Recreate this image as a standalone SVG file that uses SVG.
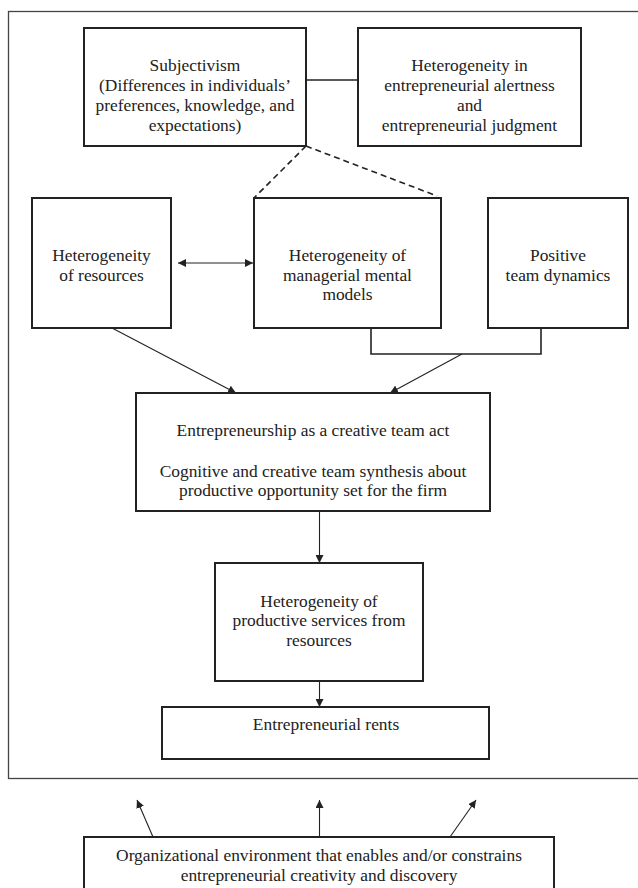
<svg xmlns="http://www.w3.org/2000/svg" width="638" height="888" viewBox="0 0 638 888">
<style>
.box{fill:none;stroke:#222;stroke-width:2}
.frame{fill:none;stroke:#444;stroke-width:1.3}
.t{font-family:"Liberation Serif","Times New Roman",serif;font-size:17.4px;fill:#222;text-anchor:middle}
.c{fill:none;stroke:#222;stroke-width:1.1}
.d{fill:none;stroke:#222;stroke-width:1.6;stroke-dasharray:6,4}
</style>
<defs>
<marker id="ah" viewBox="0 0 10 10" refX="10" refY="5" markerWidth="8" markerHeight="8" markerUnits="userSpaceOnUse" orient="auto-start-reverse">
<path d="M0,0 L10,5 L0,10 Z" fill="#222"/>
</marker>
</defs>
<rect class="frame" x="8.5" y="11.5" width="640" height="767"/>
<g id="subjectivism">
<rect class="box" x="84" y="28" width="222" height="118"/>
<text class="t" x="195" y="71">Subjectivism</text>
<text class="t" x="195" y="91">(Differences in individuals’</text>
<text class="t" x="195" y="111">preferences, knowledge, and</text>
<text class="t" x="195" y="131">expectations)</text>
</g>
<g id="alertness">
<rect class="box" x="358" y="28" width="223" height="118"/>
<text class="t" x="469.5" y="71">Heterogeneity in</text>
<text class="t" x="469.5" y="91">entrepreneurial alertness</text>
<text class="t" x="469.5" y="111">and</text>
<text class="t" x="469.5" y="131">entrepreneurial judgment</text>
</g>
<g id="resources">
<rect class="box" x="32" y="198" width="139" height="130"/>
<text class="t" x="101.5" y="261">Heterogeneity</text>
<text class="t" x="101.5" y="281">of resources</text>
</g>
<g id="mental-models">
<rect class="box" x="254" y="198" width="187" height="130"/>
<text class="t" x="347.5" y="261">Heterogeneity of</text>
<text class="t" x="347.5" y="281">managerial mental</text>
<text class="t" x="347.5" y="300">models</text>
</g>
<g id="team-dynamics">
<rect class="box" x="488" y="198" width="140" height="130"/>
<text class="t" x="558" y="261">Positive</text>
<text class="t" x="558" y="281">team dynamics</text>
</g>
<g id="creative-act">
<rect class="box" x="136" y="393" width="354" height="118"/>
<text class="t" x="313" y="436">Entrepreneurship as a creative team act</text>
<text class="t" x="313" y="477">Cognitive and creative team synthesis about</text>
<text class="t" x="313" y="496">productive opportunity set for the firm</text>
</g>
<g id="productive-services">
<rect class="box" x="215" y="563" width="208" height="118"/>
<text class="t" x="319" y="607">Heterogeneity of</text>
<text class="t" x="319" y="626">productive services from</text>
<text class="t" x="319" y="646">resources</text>
</g>
<g id="rents">
<rect class="box" x="162" y="707" width="327" height="52"/>
<text class="t" x="326" y="730">Entrepreneurial rents</text>
</g>
<g id="org-environment">
<rect class="box" x="84" y="837" width="470" height="60"/>
<text class="t" x="319" y="861">Organizational environment that enables and/or constrains</text>
<text class="t" x="319" y="881">entrepreneurial creativity and discovery</text>
</g>
<g id="connectors">
<line class="c" x1="306" y1="80" x2="358" y2="80" style="stroke-width:1.6"/>
<line class="d" x1="306" y1="146" x2="254" y2="198"/>
<line class="d" x1="306" y1="146" x2="437" y2="196"/>
<line class="c" x1="178" y1="263" x2="253" y2="263" marker-start="url(#ah)" marker-end="url(#ah)"/>
<polyline class="c" points="371,328 371,354 541,354 541,328" style="stroke-width:1.6"/>
<line class="c" x1="112" y1="328" x2="236" y2="393" marker-end="url(#ah)"/>
<line class="c" x1="462" y1="354" x2="390" y2="393" marker-end="url(#ah)"/>
<line class="c" x1="319.5" y1="511" x2="319.5" y2="563" marker-end="url(#ah)"/>
<line class="c" x1="319.5" y1="681" x2="319.5" y2="707" marker-end="url(#ah)"/>
<line class="c" x1="153" y1="837" x2="137" y2="800" marker-end="url(#ah)"/>
<line class="c" x1="319.5" y1="837" x2="319.5" y2="800" marker-end="url(#ah)"/>
<line class="c" x1="450" y1="837" x2="476" y2="800" marker-end="url(#ah)"/>
</g>
</svg>
